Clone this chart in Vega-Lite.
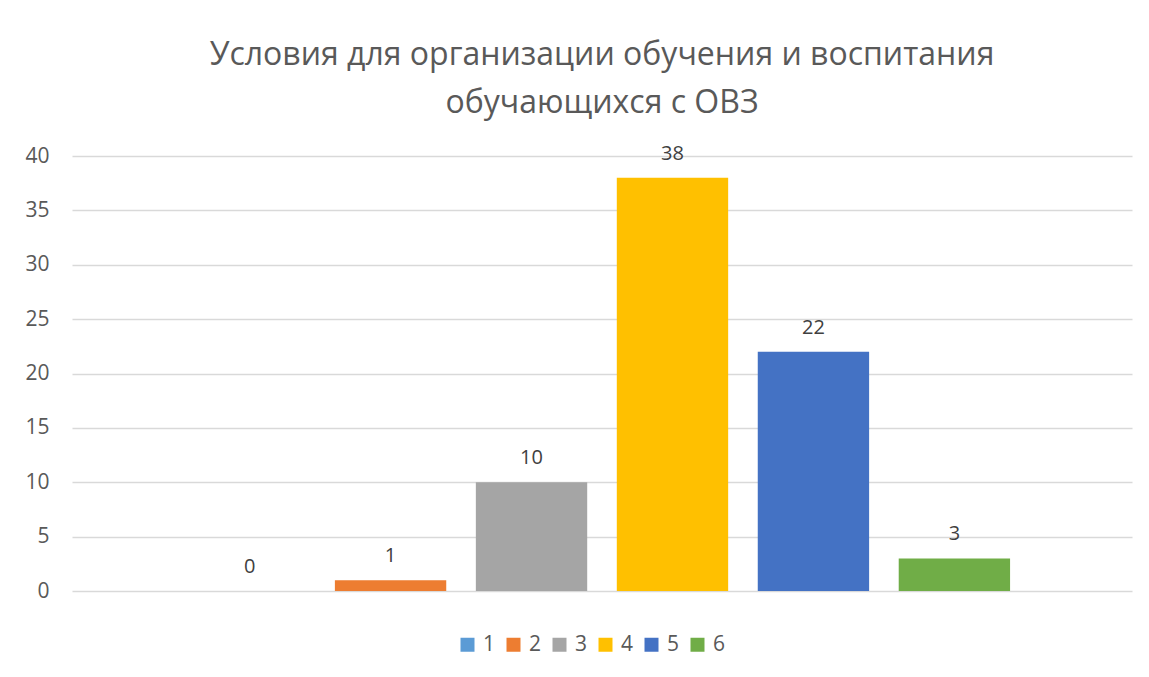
{
  "$schema": "https://vega.github.io/schema/vega-lite/v6.json",
  "width": 1060,
  "height": 435,
  "autosize": {"type": "none"},
  "padding": {"left": 72, "top": 156, "right": 17, "bottom": 86},
  "background": "white",
  "config": {
    "view": {"stroke": null},
    "font": "Open Sans"
  },
  "title": {
    "text": ["Условия для организации обучения и воспитания", "обучающихся с ОВЗ"],
    "font": "Open Sans",
    "fontSize": 32,
    "fontWeight": "normal",
    "color": "#595959",
    "anchor": "middle",
    "offset": 24,
    "lineHeight": 48
  },
  "data": {
    "values": [
      {"series": "1", "value": 0},
      {"series": "2", "value": 1},
      {"series": "3", "value": 10},
      {"series": "4", "value": 38},
      {"series": "5", "value": 22},
      {"series": "6", "value": 3}
    ]
  },
  "encoding": {
    "x": {
      "field": "series",
      "type": "nominal",
      "scale": {"paddingInner": 0.21, "paddingOuter": 0.865},
      "axis": null
    },
    "y": {
      "field": "value",
      "type": "quantitative",
      "scale": {"domain": [0, 40]},
      "axis": {
        "title": null,
        "values": [0, 5, 10, 15, 20, 25, 30, 35, 40],
        "domain": false,
        "ticks": false,
        "labelPadding": 23,
        "labelFontSize": 21,
        "labelColor": "#595959",
        "labelFont": "Open Sans",
        "gridColor": "#d9d9d9",
        "gridWidth": 1.3
      }
    }
  },
  "layer": [
    {
      "mark": {"type": "bar"},
      "encoding": {
        "color": {
          "field": "series",
          "type": "nominal",
          "scale": {
            "domain": ["1", "2", "3", "4", "5", "6"],
            "range": ["#5B9BD5", "#ED7D31", "#A5A5A5", "#FFC000", "#4472C4", "#70AD47"]
          },
          "legend": {
            "title": null,
            "orient": "none",
            "direction": "horizontal",
            "legendX": 385,
            "legendY": 478,
            "symbolType": "square",
            "symbolSize": 196,
            "symbolStrokeWidth": 0,
            "labelFontSize": 21,
            "labelColor": "#595959",
            "labelFont": "Open Sans",
            "labelOffset": 5,
            "columnPadding": 7
          }
        }
      }
    },
    {
      "mark": {"type": "text", "baseline": "middle", "dy": -24, "fontSize": 20, "color": "#404040", "font": "Open Sans"},
      "encoding": {
        "text": {"field": "value", "type": "quantitative"}
      }
    }
  ]
}
